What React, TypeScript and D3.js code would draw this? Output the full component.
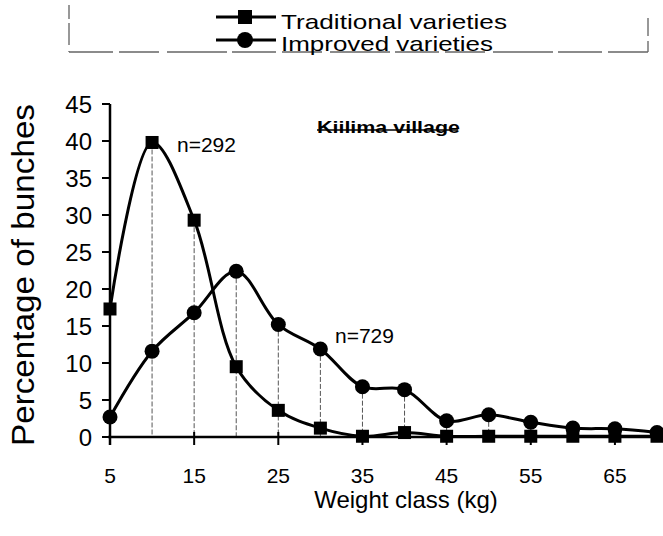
import React from "react";
import * as d3 from "d3";

// weight classes (kg) and percentage of bunches
const weightClasses = [5, 10, 15, 20, 25, 30, 35, 40, 45, 50, 55, 60, 65, 70];
const traditional = [17.3, 39.8, 29.3, 9.5, 3.6, 1.2, 0.1, 0.6, 0.1, 0.1, 0.1, 0.1, 0.1, 0.1];
const improved = [2.7, 11.6, 16.8, 22.4, 15.2, 11.9, 6.8, 6.4, 2.2, 3.0, 2.0, 1.2, 1.1, 0.6];
const xTickLabels = [5, 15, 25, 35, 45, 55, 65];
const yTickLabels = [0, 5, 10, 15, 20, 25, 30, 35, 40, 45];

const FONT = "'Liberation Sans', Arial, sans-serif";

const App = () => {
  const svgRef = React.useRef<SVGSVGElement>(null);
  const W = 663;
  const H = 536;

  React.useEffect(() => {
    const svg = d3.select(svgRef.current);
    svg.selectAll("*").remove();

    const x = d3.scaleLinear().domain([5, 70]).range([110, 657]);
    const y = d3.scaleLinear().domain([0, 45]).range([437, 104]);

    // drop lines
    svg
      .append("g")
      .selectAll("line")
      .data(weightClasses)
      .enter()
      .append("line")
      .attr("x1", (d) => x(d))
      .attr("x2", (d) => x(d))
      .attr("y1", (d, i) => y(Math.max(traditional[i], improved[i])))
      .attr("y2", y(0))
      .style("stroke", "#555")
      .style("stroke-width", 1)
      .style("stroke-dasharray", "5,2");

    // axes
    const ax = svg.append("g").style("stroke", "#000");
    ax.append("line")
      .attr("x1", x(5))
      .attr("x2", x(5))
      .attr("y1", y(45))
      .attr("y2", y(0) + 8)
      .style("stroke-width", 2.5);
    ax.append("line")
      .attr("x1", x(5) - 2)
      .attr("x2", 662)
      .attr("y1", y(0))
      .attr("y2", y(0))
      .style("stroke-width", 2.5);
    ax.selectAll("line.yt")
      .data(yTickLabels)
      .enter()
      .append("line")
      .attr("x1", x(5) - 8)
      .attr("x2", x(5))
      .attr("y1", (d) => y(d))
      .attr("y2", (d) => y(d))
      .style("stroke-width", 2);
    ax.selectAll("line.xt")
      .data(xTickLabels)
      .enter()
      .append("line")
      .attr("x1", (d) => x(d))
      .attr("x2", (d) => x(d))
      .attr("y1", y(0) - 5)
      .attr("y2", y(0) + 8)
      .style("stroke-width", 2);

    svg
      .append("g")
      .selectAll("text")
      .data(yTickLabels)
      .enter()
      .append("text")
      .attr("x", 92)
      .attr("y", (d) => y(d) + 8.5)
      .attr("text-anchor", "end")
      .style("font-family", FONT)
      .style("font-size", "24px")
      .text((d) => d);

    svg
      .append("g")
      .selectAll("text")
      .data(xTickLabels)
      .enter()
      .append("text")
      .attr("x", (d) => x(d))
      .attr("y", 483)
      .attr("text-anchor", "middle")
      .style("font-family", FONT)
      .style("font-size", "21px")
      .text((d) => d);

    // titles
    svg
      .append("text")
      .attr("transform", "translate(34,275) rotate(-90)")
      .attr("text-anchor", "middle")
      .attr("textLength", 342)
      .attr("lengthAdjust", "spacingAndGlyphs")
      .style("font-family", FONT)
      .style("font-size", "31px")
      .text("Percentage of bunches");
    svg
      .append("text")
      .attr("x", 406)
      .attr("y", 508)
      .attr("text-anchor", "middle")
      .style("font-family", FONT)
      .style("font-size", "24px")
      .text("Weight class (kg)");

    // annotations
    svg
      .append("text")
      .attr("x", 177)
      .attr("y", 152)
      .style("font-family", FONT)
      .style("font-size", "21px")
      .text("n=292");
    svg
      .append("text")
      .attr("x", 335)
      .attr("y", 343)
      .style("font-family", FONT)
      .style("font-size", "21px")
      .text("n=729");
    svg
      .append("text")
      .attr("x", 317)
      .attr("y", 133)
      .attr("textLength", 143)
      .attr("lengthAdjust", "spacingAndGlyphs")
      .style("font-family", FONT)
      .style("font-size", "17px")
      .style("font-weight", "bold")
      .text("Kiilima village");
    svg
      .append("line")
      .attr("x1", 317)
      .attr("x2", 458)
      .attr("y1", 130)
      .attr("y2", 130)
      .style("stroke", "#000")
      .style("stroke-width", 1.5);

    // series lines
    const line = d3
      .line<number>()
      .x((d, i) => x(weightClasses[i]))
      .y((d) => y(d))
      .curve(d3.curveCatmullRom.alpha(0.5));

    svg
      .append("path")
      .attr("d", line(improved))
      .style("fill", "none")
      .style("stroke", "#000")
      .style("stroke-width", 3);
    svg
      .append("path")
      .attr("d", line(traditional))
      .style("fill", "none")
      .style("stroke", "#000")
      .style("stroke-width", 3);

    // markers
    svg
      .append("g")
      .selectAll("rect")
      .data(traditional)
      .enter()
      .append("rect")
      .attr("x", (d, i) => x(weightClasses[i]) - 6.5)
      .attr("y", (d) => y(d) - 6.5)
      .attr("width", 13)
      .attr("height", 13)
      .style("fill", "#000");
    svg
      .append("g")
      .selectAll("circle")
      .data(improved)
      .enter()
      .append("circle")
      .attr("cx", (d, i) => x(weightClasses[i]))
      .attr("cy", (d) => y(d))
      .attr("r", 7.5)
      .style("fill", "#000");

    // legend
    const lg = svg.append("g");
    lg.append("line")
      .attr("x1", 69)
      .attr("x2", 69)
      .attr("y1", 5)
      .attr("y2", 52)
      .style("stroke", "#777")
      .style("stroke-width", 1.5)
      .style("stroke-dasharray", "14,4,22,6");
    lg.append("line")
      .attr("x1", 648)
      .attr("x2", 648)
      .attr("y1", 18)
      .attr("y2", 52)
      .style("stroke", "#777")
      .style("stroke-width", 1.5)
      .style("stroke-dasharray", "18,5");
    lg.append("line")
      .attr("x1", 69)
      .attr("x2", 648)
      .attr("y1", 52)
      .attr("y2", 52)
      .style("stroke", "#666")
      .style("stroke-width", 1.5)
      .style("stroke-dasharray", "44,6,40,8,60,5");

    const entries = [
      { label: "Traditional varieties", ly: 17, ty: 29, len: 226, shape: "square" },
      { label: "Improved varieties", ly: 40, ty: 51, len: 212, shape: "circle" }
    ];
    entries.forEach((e) => {
      lg.append("line")
        .attr("x1", 216)
        .attr("x2", 276)
        .attr("y1", e.ly)
        .attr("y2", e.ly)
        .style("stroke", "#000")
        .style("stroke-width", 3);
      if (e.shape === "square") {
        lg.append("rect")
          .attr("x", 238)
          .attr("y", e.ly - 7)
          .attr("width", 14)
          .attr("height", 14)
          .style("fill", "#000");
      } else {
        lg.append("circle")
          .attr("cx", 245)
          .attr("cy", e.ly)
          .attr("r", 8)
          .style("fill", "#000");
      }
      lg.append("text")
        .attr("x", 281)
        .attr("y", e.ty)
        .attr("textLength", e.len)
        .attr("lengthAdjust", "spacingAndGlyphs")
        .style("font-family", FONT)
        .style("font-size", "21px")
        .text(e.label);
    });
  }, []);

  return (
    <div style={{ position: "absolute", left: 0, top: 0 }}>
      <svg ref={svgRef} width={W} height={H} style={{ display: "block", background: "#fff" }} />
    </div>
  );
};

export default App;
